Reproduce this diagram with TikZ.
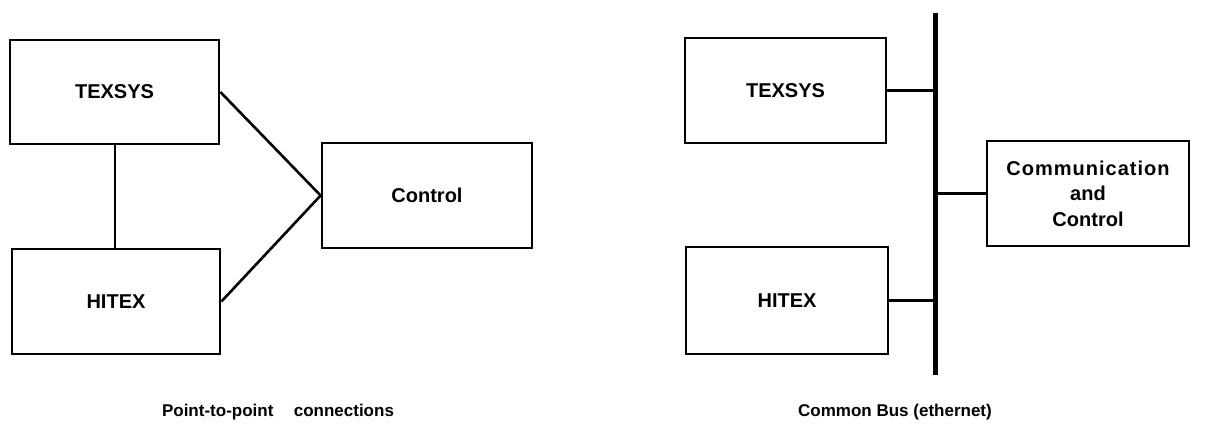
\documentclass[tikz,border=0pt]{standalone}
\usepackage{fontspec}
\setmainfont{Liberation Sans}
\newfontfamily\spacedfont[LetterSpace=5]{Liberation Sans}
\begin{document}
\begin{tikzpicture}[x=1pt,y=-1pt,
  box/.style={draw, line width=2.8pt, inner sep=0pt, align=center,
    font=\bfseries\fontsize{20}{25.5}\selectfont},
  link/.style={line width=2.6pt},
  stub/.style={line width=2.2pt},
  busline/.style={line width=5pt},
  caption/.style={font=\bfseries\fontsize{17}{20}\selectfont, inner sep=0pt}]
\useasboundingbox (0,0) rectangle (1210,426);
% left: point-to-point
\node[box, minimum width=209pt, minimum height=104pt] (ltex) at (114.5,92) {TEXSYS};
\node[box, minimum width=208pt, minimum height=105pt] (lhit) at (116,301.5) {HITEX};
\node[box, minimum width=210pt, minimum height=105pt] (ctrl) at (427,195.5) {Control};
\draw[stub] (ltex.south -| 115,0) -- (lhit.north -| 115,0);
\draw[link] (ltex.east) -- (ctrl.west);
\draw[link] (lhit.east) -- (ctrl.west);
\node[caption] (lcap) at (278,412) {Point-to-point\hspace{1.2em}connections};
% right: common bus
\node[box, minimum width=201pt, minimum height=105pt] (rtex) at (785.5,90.5) {TEXSYS};
\node[box, minimum width=202pt, minimum height=107pt] (rhit) at (787,300.5) {HITEX};
\node[box, minimum width=202pt, minimum height=105pt] (comm) at (1088,193.5) {{\spacedfont\bfseries Communication}\\and\\Control};
\coordinate (busT) at (935,13);
\coordinate (busB) at (935,375);
\draw[busline] (busT) -- (busB);
\draw[stub] (rtex.east) -- (rtex.east -| busT);
\draw[stub] (rhit.east) -- (rhit.east -| busT);
\draw[stub] (comm.west) -- (comm.west -| busT);
\node[caption] (rcap) at (895,412) {Common Bus (ethernet)};
\end{tikzpicture}
\end{document}
